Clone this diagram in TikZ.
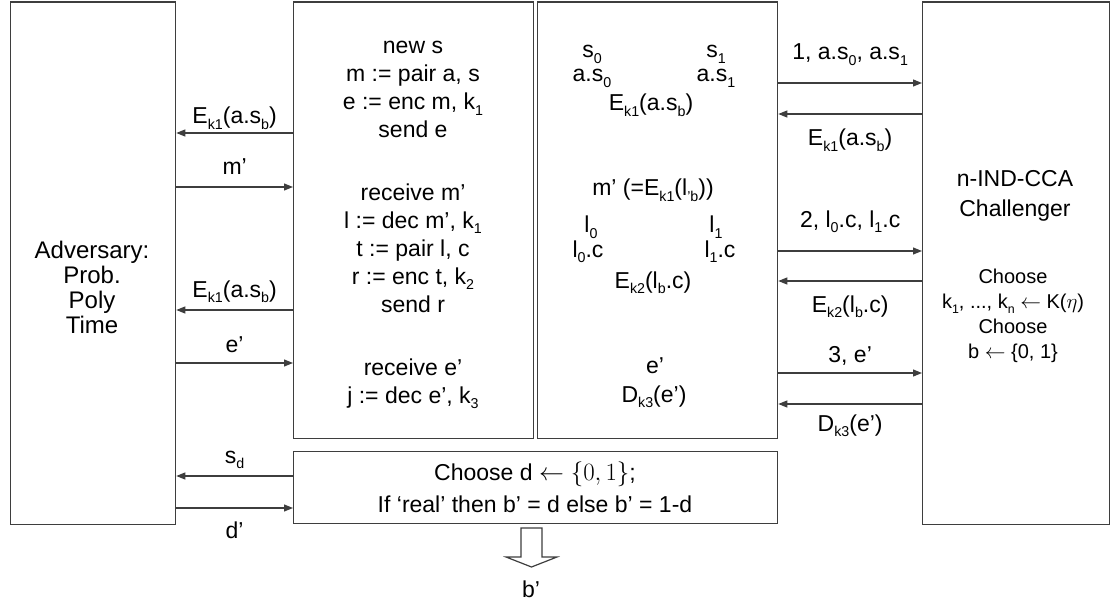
\documentclass[tikz,border=0pt]{standalone}
\usepackage{fontspec}
\usepackage{graphicx}
\setmainfont{Liberation Sans}
\definecolor{edge}{RGB}{62, 62, 62}
\usetikzlibrary{arrows.meta}
\newcommand{\lo}[1]{\raisebox{-0.26em}{\scalebox{0.62}{#1}}}

\tikzset{
  pane/.style = {
    draw        = edge,
    line width  = 1.3pt,
    anchor      = north west,
    inner sep   = 0pt
  },
  txt/.style  = {font=\fontsize{23}{28}\selectfont, align=center, inner sep=0pt},
  note/.style = {font=\fontsize{20}{25}\selectfont, align=center, inner sep=0pt},
  msg/.style  = {draw=edge, line width=1.2pt, -{Triangle[length=9pt, width=7pt]}},
  lbl/.style  = {midway, anchor=base, yshift=#1, font=\fontsize{23}{28}\selectfont, inner sep=0pt}
}

\begin{document}
\begin{tikzpicture}[x=1pt, y=-1pt]
  \useasboundingbox (0,0) rectangle (1112,607);

  % the five frames
  \node[pane, minimum width=165pt, minimum height=522pt] (adv)   at (10,1.5)  {};
  \node[pane, minimum width=240pt, minimum height=436pt] (proc)  at (293,1.5) {};
  \node[pane, minimum width=240pt, minimum height=436pt] (sim)   at (537,1.5) {};
  \node[pane, minimum width=187pt, minimum height=522pt] (chal)  at (922,1.5) {};
  \node[pane, minimum width=484pt, minimum height=72pt]  (guess) at (293,451) {};

  % adversary and challenger (base = last line)
  \node[txt, font=\fontsize{24}{25}\selectfont, anchor=base] (advname) at (92,333)
    {Adversary:\\Prob.\\Poly\\Time};
  \node[txt, font=\fontsize{23}{30}\selectfont, anchor=base] (chalname) at (1015,217)
    {n-IND-CCA\\Challenger};
  \node[note, anchor=base] (chalkeys) at (1013,358)
    {Choose\\k\lo{1}, ..., k\lo{n} $\leftarrow$ K($\eta$)\\Choose\\b $\leftarrow$ \{0, 1\}};

  % protocol run
  \node[txt, anchor=base] (run1) at (413,138)
    {new s\\m := pair a, s\\e := enc m, k\lo{1}\\send e};
  \node[txt, anchor=base] (run2) at (413,312)
    {receive m'\\l := dec m', k\lo{1}\\t := pair l, c\\r := enc t, k\lo{2}\\send r};
  \node[txt, anchor=base] (run3) at (413,403)
    {receive e'\\j := dec e', k\lo{3}};

  % simulator
  \node[txt, anchor=base] (s0)  at (592,58)  {s\lo{0}};
  \node[txt, anchor=base] (s1)  at (716,58)  {s\lo{1}};
  \node[txt, anchor=base] (as0) at (592,82)  {a.s\lo{0}};
  \node[txt, anchor=base] (as1) at (716,82)  {a.s\lo{1}};
  \node[txt, anchor=base] (ek1) at (651,111) {E\lo{k1}(a.s\lo{b})};
  \node[txt, anchor=base] (mp)  at (653,196) {m' (=E\lo{k1}(l\lo{'b}))};
  \node[txt, anchor=base] (l0)  at (591,233) {l\lo{0}};
  \node[txt, anchor=base] (l1)  at (716,233) {l\lo{1}};
  \node[txt, anchor=base] (l0c) at (588,257) {l\lo{0}.c};
  \node[txt, anchor=base] (l1c) at (720,257) {l\lo{1}.c};
  \node[txt, anchor=base] (ek2) at (653,288) {E\lo{k2}(l\lo{b}.c)};
  \node[txt, anchor=base] (ep)  at (655,373) {e'};
  \node[txt, anchor=base] (dk3) at (654,402) {D\lo{k3}(e')};

  % final guess
  \node[txt, font=\fontsize{23}{32}\selectfont, anchor=base] (rule) at (535,512)
    {Choose d $\leftarrow \{0, 1\}$;\\If `real' then b' = d else b' = 1-d};
  \draw[draw=edge, line width=1.2pt] (521,528) -- (542,528) -- (542,557) -- (557,557)
    -- (531.5,567) -- (506,557) -- (521,557) -- cycle;
  \node[txt, anchor=base] (bout) at (531,597) {b'};

  % adversary <-> protocol
  \draw[msg] (proc.west |- 0,133) -- (adv.east |- 0,133) node[lbl=9pt]  {E\lo{k1}(a.s\lo{b})};
  \draw[msg] (adv.east |- 0,187)  -- (proc.west |- 0,187) node[lbl=12pt] {m'};
  \draw[msg] (proc.west |- 0,310) -- (adv.east |- 0,310) node[lbl=13pt] {E\lo{k1}(a.s\lo{b})};
  \draw[msg] (adv.east |- 0,363)  -- (proc.west |- 0,363) node[lbl=11pt] {e'};
  \draw[msg] (guess.west |- 0,476) -- (adv.east |- 0,476) node[lbl=13pt] {s\lo{d}};
  \draw[msg] (adv.east |- 0,508)  -- (guess.west |- 0,508) node[lbl=-30pt] {d'};

  % simulator <-> challenger
  \draw[msg] (sim.east |- 0,83)   -- (chal.west |- 0,83)  node[lbl=23pt]  {1, a.s\lo{0}, a.s\lo{1}};
  \draw[msg] (chal.west |- 0,114) -- (sim.east |- 0,114)  node[lbl=-32pt] {E\lo{k1}(a.s\lo{b})};
  \draw[msg] (sim.east |- 0,251)  -- (chal.west |- 0,251) node[lbl=24pt]  {2, l\lo{0}.c, l\lo{1}.c};
  \draw[msg] (chal.west |- 0,281) -- (sim.east |- 0,281)  node[lbl=-31pt] {E\lo{k2}(l\lo{b}.c)};
  \draw[msg] (sim.east |- 0,373)  -- (chal.west |- 0,373) node[lbl=11pt]  {3, e'};
  \draw[msg] (chal.west |- 0,404) -- (sim.east |- 0,404)  node[lbl=-27pt] {D\lo{k3}(e')};
\end{tikzpicture}
\end{document}
